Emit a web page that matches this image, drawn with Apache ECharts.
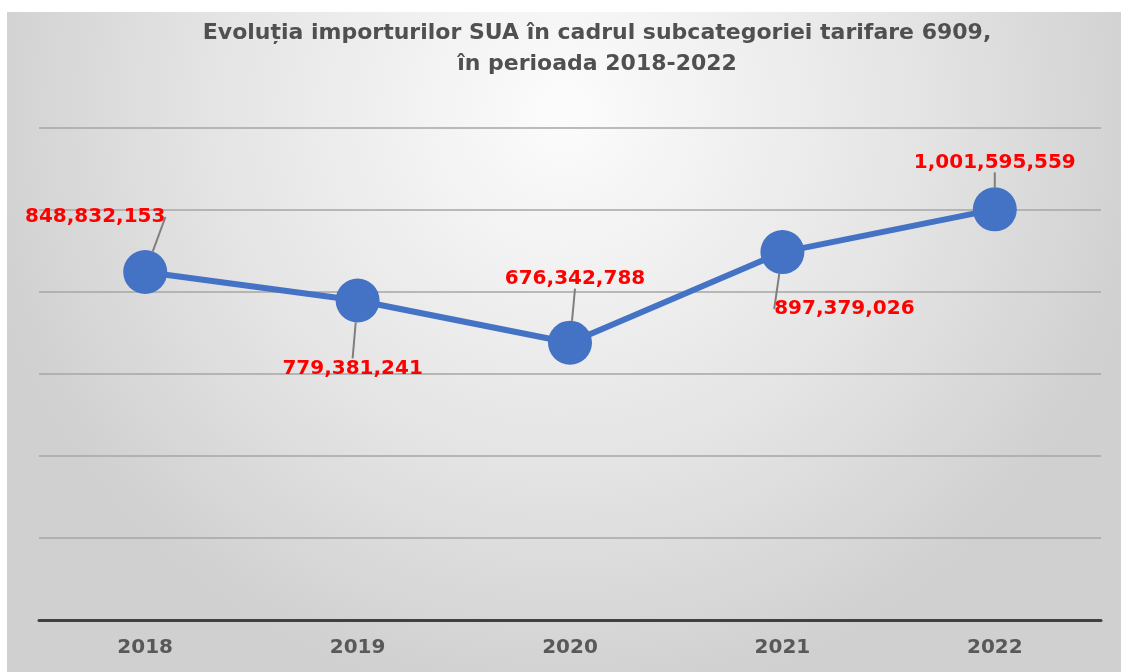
<!DOCTYPE html>
<html>
<head>
<meta charset="utf-8">
<script src="https://cdn.jsdelivr.net/npm/echarts@6/dist/echarts.min.js"></script>
<style>
  html, body { margin: 0; padding: 0; background: #ffffff; }
  #main-chart { position: absolute; left: 7px; top: 12px; width: 1114px; height: 660px; }
</style>
</head>
<body>
<div id="main-chart"></div>
<script>
// date
var years = ['2018', '2019', '2020', '2021', '2022'];
var imports = [848832153, 779381241, 676342788, 897379026, 1001595559];
// deplasarea etichetelor fata de punct (dx, dy)
var labelShift = [[-50, -55], [-5, 68], [5, -64], [62, 57], [0, -47]];

var dom = document.getElementById('main-chart');
var myChart = echarts.init(dom);

function fmt(v) {
    return String(v).replace(/\B(?=(\d{3})+(?!\d))/g, ',');
}

var option = {
    backgroundColor: new echarts.graphic.RadialGradient(0.5, 0.15, 0.9, [
        {offset: 0, color: '#fcfcfc'},
        {offset: 0.6, color: '#e4e4e4'},
        {offset: 1, color: '#d0d0d0'}
    ]),
    animation: false,
    title: {
        text: 'Evoluția importurilor SUA în cadrul subcategoriei tarifare 6909,\nîn perioada 2018-2022',
        left: 585,
        top: 1,
        textAlign: 'center',
        textStyle: {
            fontFamily: 'DejaVu Sans',
            fontSize: 22,
            fontWeight: 'bold',
            color: '#505050',
            lineHeight: 31
        }
    },
    grid: {
        left: 32,
        right: 20,
        top: 116,
        bottom: 52
    },
    xAxis: {
        type: 'category',
        boundaryGap: true,
        data: years,
        axisLine: {lineStyle: {color: '#404040', width: 3}},
        axisTick: {show: false},
        axisLabel: {
            margin: 18,
            fontFamily: 'DejaVu Sans',
            fontWeight: 'bold',
            fontSize: 20,
            color: '#595959'
        }
    },
    yAxis: {
        type: 'value',
        min: 0,
        max: 1200000000,
        interval: 200000000,
        axisLabel: {show: false},
        axisLine: {show: false},
        axisTick: {show: false},
        splitLine: {lineStyle: {color: '#a6a6a6', width: 1.5}}
    },
    series: [
        {
            name: 'Importuri',
            type: 'line',
            data: imports,
            symbol: 'circle',
            symbolSize: 44,
            itemStyle: {color: '#4472c4'},
            lineStyle: {color: '#4472c4', width: 6},
            label: {
                show: true,
                position: 'inside',
                formatter: function (p) { return fmt(p.value); },
                fontFamily: 'DejaVu Sans',
                fontWeight: 'bold',
                fontSize: 20,
                color: '#ff0000'
            },
            labelLine: {
                show: true,
                lineStyle: {color: '#7f7f7f', width: 2}
            },
            labelLayout: function (params) {
                var s = labelShift[params.dataIndex];
                return {dx: s[0], dy: s[1]};
            }
        }
    ]
};
myChart.setOption(option, true);
</script>
</body>
</html>
